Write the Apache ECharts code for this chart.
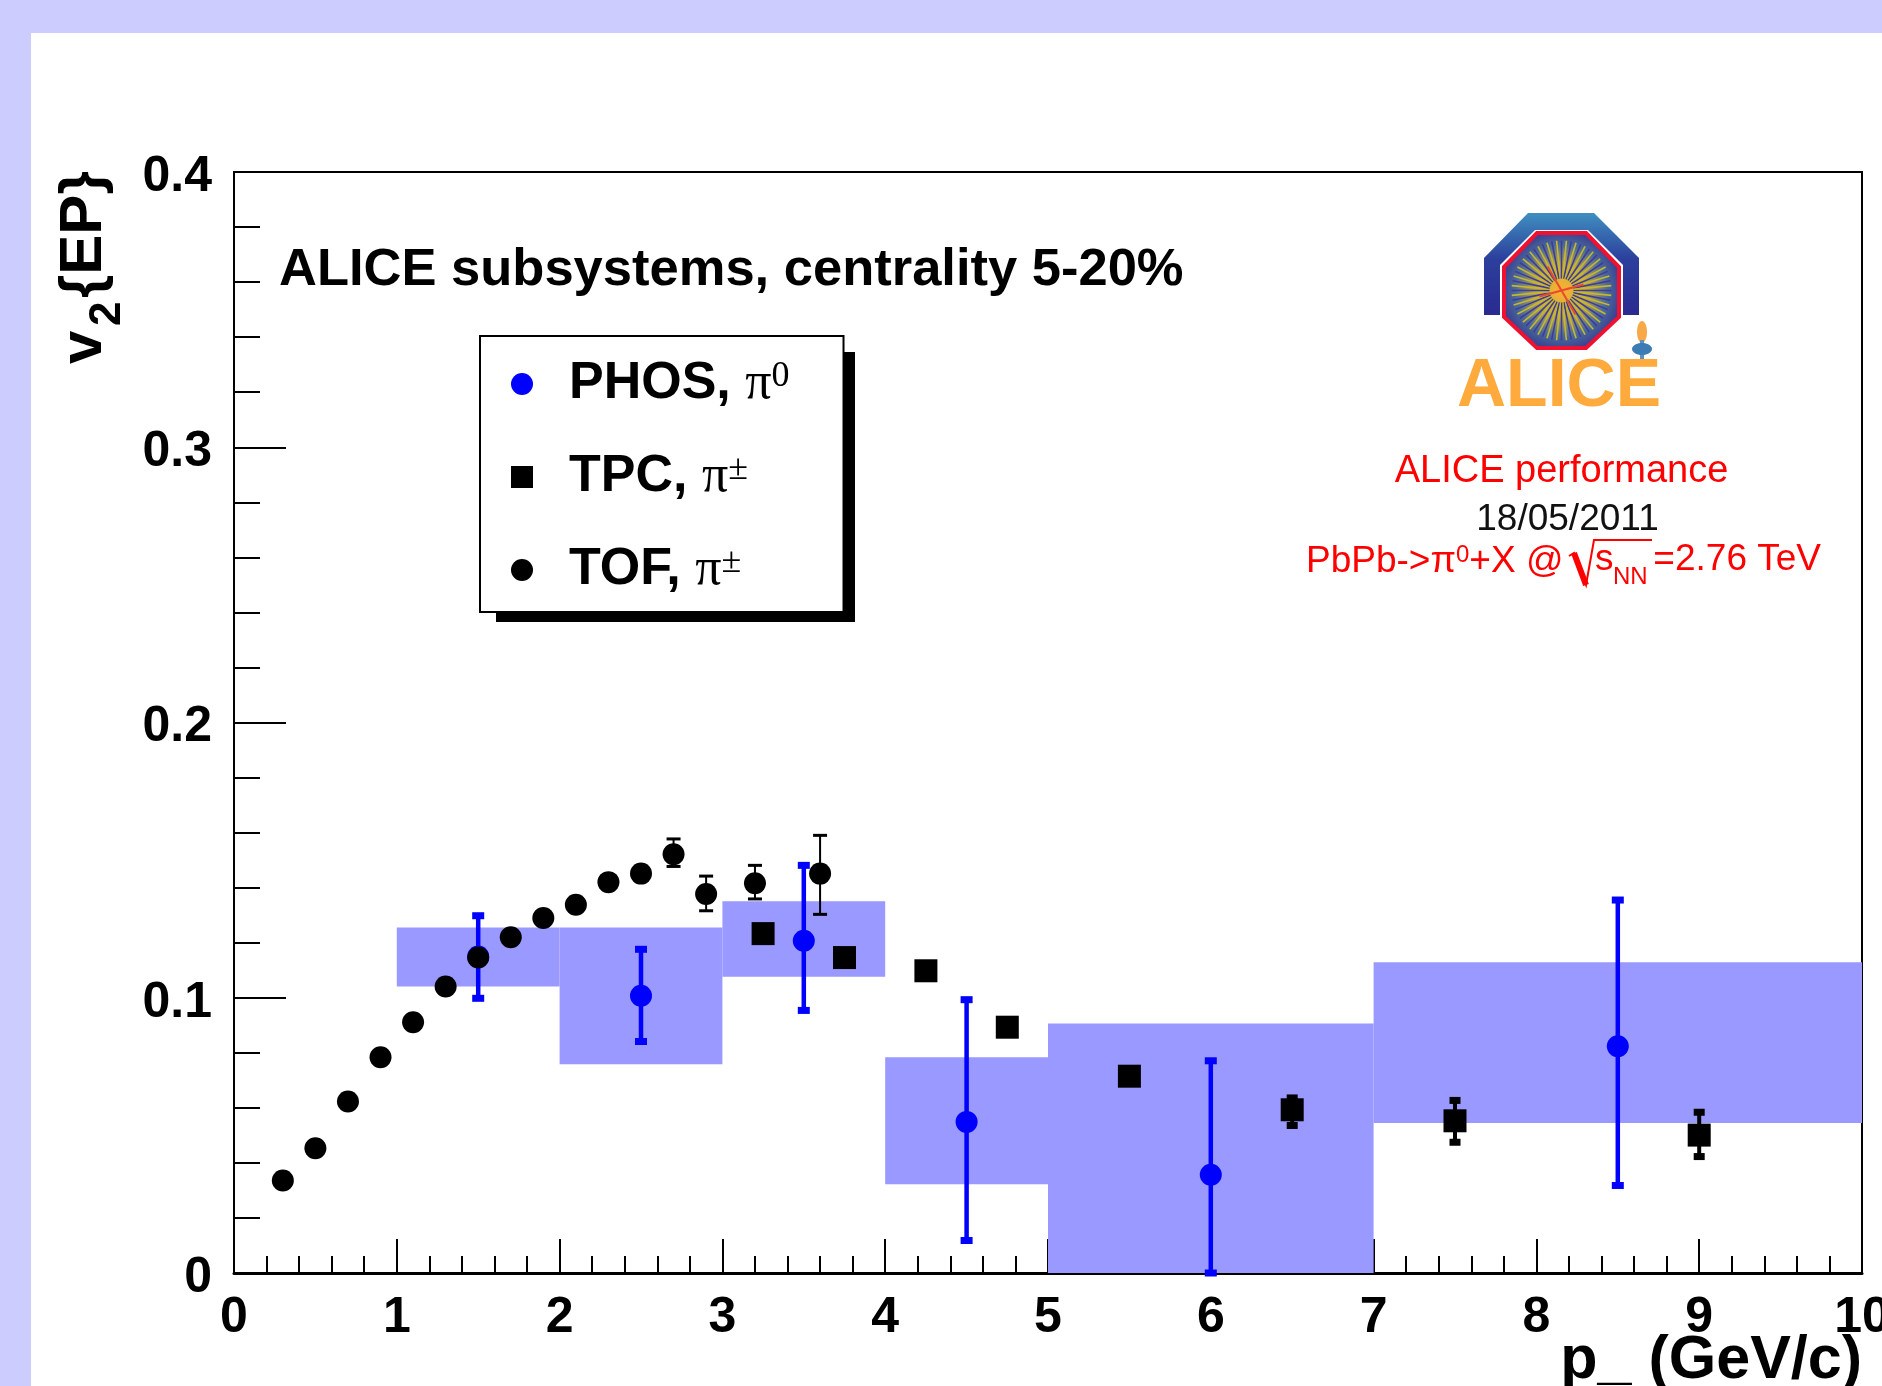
<!DOCTYPE html>
<html>
<head>
<meta charset="utf-8">
<title>ALICE subsystems v2</title>
<style>
html,body{margin:0;padding:0;background:#fff;overflow:hidden}
#chart{width:1882px;height:1386px}
</style>
<script src="https://cdn.jsdelivr.net/npm/echarts@6/dist/echarts.min.js"></script>
</head>
<body>
<div id="chart"></div>
<script>
var xTickLabels = ['0','1','2','3','4','5','6','7','8','9','10'];
var yTickLabels = ['0','0.1','0.2','0.3','0.4'];

// systematic bands: x from, x to, low, high
var bandFrom = [1, 2, 3, 4, 5, 7];
var bandTo   = [2, 3, 4, 5, 7, 10];
var bandLow  = [0.1041, 0.0758, 0.1076, 0.0322, 0, 0.0545];
var bandHigh = [0.1255, 0.1255, 0.1351, 0.0784, 0.0906, 0.1129];

var phosX    = [1.5, 2.5, 3.5, 4.5, 6, 8.5];
var phosY    = [0.115, 0.1007, 0.1207, 0.0549, 0.0357, 0.0824];
var phosLow  = [0.0998, 0.0841, 0.0954, 0.0118, 0, 0.0318];
var phosHigh = [0.1298, 0.1176, 0.1481, 0.0993, 0.0771, 0.1355];

var tpcX    = [3.25, 3.75, 4.25, 4.75, 5.5, 6.5, 7.5, 9];
var tpcY    = [0.1233, 0.1146, 0.1098, 0.0893, 0.0715, 0.0593, 0.0553, 0.0501];
var tpcErrX = [6.5, 7.5, 9];
var tpcLow  = [0.0536, 0.0475, 0.0423];
var tpcHigh = [0.0636, 0.0627, 0.0584];

var tofX    = [0.3, 0.5, 0.7, 0.9, 1.1, 1.3, 1.5, 1.7, 1.9, 2.1, 2.3, 2.5, 2.7, 2.9, 3.2, 3.6];
var tofY    = [0.0336, 0.0453, 0.0623, 0.0784, 0.0911, 0.1041, 0.1146, 0.122, 0.129, 0.1338, 0.142, 0.1451, 0.1521, 0.1377, 0.1416, 0.1451];
var tofErrX = [2.7, 2.9, 3.2, 3.6];
var tofLow  = [0.1477, 0.1316, 0.1359, 0.1303];
var tofHigh = [0.1577, 0.1442, 0.1481, 0.159];

var SANS = '"Liberation Sans", Arial, sans-serif';
var SERIF = '"Liberation Serif", serif';

function zip() {
	var cols = Array.prototype.slice.call(arguments);
	return cols[0].map(function(_, i){
		return cols.map(function(c){ return c[i]; });
	});
}

function bandItem(params, api) {
	var a = api.coord([api.value(0), api.value(3)]);
	var b = api.coord([api.value(1), api.value(2)]);
	return {
		type: 'rect',
		shape: {x: a[0], y: a[1], width: b[0] - a[0], height: b[1] - a[1]},
		style: {fill: '#9999ff'}
	};
}

// error bar with flat caps, one renderer per look
function errorItem(color, lineW, capW, capH) {
	return function(params, api) {
		var lo = api.coord([api.value(0), api.value(1)]);
		var hi = api.coord([api.value(0), api.value(2)]);
		return {
			type: 'group',
			children: [
				{type: 'line', shape: {x1: lo[0], y1: lo[1], x2: hi[0], y2: hi[1]}, style: {stroke: color, lineWidth: lineW}},
				{type: 'rect', shape: {x: lo[0] - capW / 2, y: lo[1] - capH / 2, width: capW, height: capH}, style: {fill: color}},
				{type: 'rect', shape: {x: hi[0] - capW / 2, y: hi[1] - capH / 2, width: capW, height: capH}, style: {fill: color}}
			]
		};
	};
}

var legendText = {
	'PHOS': '{t|PHOS, }{p|π}{s|0}',
	'TPC': '{t|TPC, }{p|π}{s|±}',
	'TOF': '{t|TOF, }{p|π}{s|±}'
};

// logo pieces, full page pixels
function logo() {
	var cx = 1561.5, cy = 290.5, els = [];
	els.push({type: 'polygon', shape: {points: [[1484,315],[1484,258],[1528,213],[1594,213],[1639,258],[1639,315],[1623,315],[1623,265],[1588,230],[1535,230],[1500,265],[1500,315]]},
		style: {fill: new echarts.graphic.LinearGradient(0, 0, 0, 1, [{offset: 0, color: '#3f8fc0'}, {offset: 0.45, color: '#2c3f9c'}, {offset: 1, color: '#2a2a90'}])}});
	els.push({type: 'polygon', shape: {points: [[1504,267],[1537,233],[1586,233],[1619,267],[1619,317],[1586,348],[1537,348],[1504,317]]},
		style: {fill: new echarts.graphic.RadialGradient(0.5, 0.5, 0.55, [{offset: 0, color: '#ffb030'}, {offset: 0.35, color: '#c8b040'}, {offset: 0.7, color: '#4a6a9a'}, {offset: 1, color: '#34308e'}]), stroke: '#f01030', lineWidth: 4}});
	for (var i = 0; i < 64; i++) {
		var a = i / 64 * Math.PI * 2;
		els.push({type: 'line', shape: {x1: cx + Math.cos(a) * 12, y1: cy + Math.sin(a) * 12, x2: cx + Math.cos(a) * 50, y2: cy + Math.sin(a) * 50},
			style: {stroke: i % 2 ? '#c8b828' : '#403a98', lineWidth: 1.6}});
	}
	els.push({type: 'line', shape: {x1: cx - 14, y1: cy - 24, x2: cx + 14, y2: cy + 24}, style: {stroke: '#e84a30', lineWidth: 2}});
	els.push({type: 'line', shape: {x1: cx - 22, y1: cy + 6, x2: cx + 22, y2: cy - 6}, style: {stroke: '#e84a30', lineWidth: 2}});
	els.push({type: 'ellipse', shape: {cx: 1642, cy: 332, rx: 5, ry: 11}, style: {fill: '#f8a848'}});
	els.push({type: 'line', shape: {x1: 1642, y1: 340, x2: 1642, y2: 366}, style: {stroke: '#5c90c0', lineWidth: 4}});
	els.push({type: 'ellipse', shape: {cx: 1642, cy: 349, rx: 10, ry: 6}, style: {fill: '#3c7cb4'}});
	els.push({type: 'text', x: 1559, y: 387, style: {text: 'ALICE', font: 'bold 68px ' + SANS, fill: '#ffaa3c', textAlign: 'center', textVerticalAlign: 'middle'}});
	return els;
}

function redText(x, y, str, size, align) {
	return {type: 'text', x: x, y: y, style: {text: str, font: size + 'px ' + SANS, fill: '#ff0000', textAlign: align, textVerticalAlign: 'middle'}};
}

function rotatedTitle(y, x, str, size) {
	return {type: 'text', x: x, y: y, rotation: Math.PI / 2, style: {text: str, font: 'bold ' + size + 'px ' + SANS, fill: '#000', textAlign: 'left', textVerticalAlign: 'bottom'}};
}

var graphics = [
	{type: 'rect', shape: {x: 0, y: 0, width: 1882, height: 33}, style: {fill: '#ccccff'}},
	{type: 'rect', shape: {x: 0, y: 0, width: 31, height: 1386}, style: {fill: '#ccccff'}},
	// legend drop shadow
	{type: 'rect', shape: {x: 496, y: 352, width: 359, height: 270}, style: {fill: '#000'}},
	rotatedTitle(364, 114, 'v', 60),
	rotatedTitle(326, 130, '2', 44),
	rotatedTitle(298, 114, '{EP}', 60),
	redText(1561.5, 472, 'ALICE performance', 38, 'center'),
	{type: 'text', x: 1567.5, y: 520, style: {text: '18/05/2011', font: '37px ' + SANS, fill: '#111', textAlign: 'center', textVerticalAlign: 'middle'}},
	{type: 'text', x: 1306, y: 562, style: {
		text: '{m|PbPb->π}{u|0}{m|+X @}', textAlign: 'left', textVerticalAlign: 'middle',
		rich: {m: {font: '37px ' + SANS, fill: '#ff0000'}, u: {font: '24px ' + SANS, fill: '#ff0000', verticalAlign: 'top'}}
	}},
	{type: 'polyline', shape: {points: [[1569,556],[1574,553],[1586,585],[1594,540],[1652,540]]}, style: {stroke: '#ff0000', lineWidth: 2, fill: 'none'}},
	{type: 'line', shape: {x1: 1574, y1: 553, x2: 1586, y2: 585}, style: {stroke: '#ff0000', lineWidth: 6}},
	redText(1595, 560, 's', 37, 'left'),
	redText(1613, 577, 'NN', 24, 'left'),
	redText(1821, 560, '=2.76 TeV', 37, 'right')
].concat(logo());

var tickLabelStyle = {color: '#000', fontFamily: SANS, fontWeight: 'bold', fontSize: 50};

var option = {
	animation: false,
	backgroundColor: '#fff',
	textStyle: {fontFamily: SANS},
	title: {
		text: 'ALICE subsystems, centrality 5-20%',
		left: 279, top: 244, padding: 0,
		textStyle: {color: '#000', fontFamily: SANS, fontWeight: 'bold', fontSize: 52.5}
	},
	grid: {left: 234, top: 172, width: 1628, height: 1101, outerBoundsMode: 'none', show: true, borderColor: '#000', borderWidth: 2, backgroundColor: 'transparent'},
	xAxis: {
		type: 'value', min: 0, max: 10, interval: 1,
		name: 'p_ (GeV/c)', nameLocation: 'end', nameGap: 0, nameMoveOverlap: false,
		nameTextStyle: {color: '#000', fontFamily: SANS, fontWeight: 'bold', fontSize: 61, align: 'right', verticalAlign: 'top', padding: [58, 0, 0, 0]},
		axisLine: {onZero: false, lineStyle: {color: '#000', width: 3}},
		axisTick: {inside: true, length: 34, lineStyle: {color: '#000', width: 2}},
		minorTick: {show: true, splitNumber: 5, length: 17, lineStyle: {color: '#000', width: 2}},
		splitLine: {show: false},
		axisLabel: Object.assign({margin: 20, formatter: function(v){ return xTickLabels[Math.round(v)]; }}, tickLabelStyle)
	},
	yAxis: {
		type: 'value', min: 0, max: 0.4, interval: 0.1,
		axisLine: {onZero: false, lineStyle: {color: '#000', width: 2}},
		axisTick: {inside: true, length: 52, lineStyle: {color: '#000', width: 2}},
		minorTick: {show: true, splitNumber: 5, length: 26, lineStyle: {color: '#000', width: 2}},
		splitLine: {show: false},
		// 'top' plus a negative pad nudges the labels just under their ticks
		axisLabel: Object.assign({margin: 22, verticalAlign: 'top', padding: [-20, 0, 0, 0], formatter: function(v){ return yTickLabels[Math.round(v * 10)]; }}, tickLabelStyle)
	},
	legend: {
		orient: 'vertical',
		left: 480, top: 336,
		padding: [22, 54, 16, 31],
		itemWidth: 22, itemHeight: 22, itemGap: 41,
		selectedMode: false,
		backgroundColor: '#fff',
		borderColor: '#000', borderWidth: 2,
		data: ['PHOS', 'TPC', 'TOF'],
		formatter: function(name){ return legendText[name]; },
		textStyle: {
			rich: {
				t: {fontFamily: SANS, fontWeight: 'bold', fontSize: 52, lineHeight: 50, color: '#000', padding: [0, 0, 0, 31]},
				p: {fontFamily: SERIF, fontSize: 52, lineHeight: 50, color: '#000'},
				s: {fontFamily: SERIF, fontSize: 36, lineHeight: 50, color: '#000', verticalAlign: 'top'}
			}
		}
	},
	graphic: {elements: graphics},
	series: [
		{type: 'custom', name: 'bands', silent: true, z: 1, renderItem: bandItem, encode: {x: [0, 1], y: [2, 3]}, data: zip(bandFrom, bandTo, bandLow, bandHigh)},
		{type: 'custom', name: 'phos err', silent: true, z: 3, clip: false, renderItem: errorItem('#0000ff', 4.5, 12, 7), encode: {x: 0, y: [1, 2]}, data: zip(phosX, phosLow, phosHigh)},
		{type: 'scatter', name: 'PHOS', z: 4, symbol: 'circle', symbolSize: 22, itemStyle: {color: '#0000ff', opacity: 1}, data: zip(phosX, phosY)},
		{type: 'custom', name: 'tpc err', silent: true, z: 5, renderItem: errorItem('#000', 4, 11, 7), encode: {x: 0, y: [1, 2]}, data: zip(tpcErrX, tpcLow, tpcHigh)},
		{type: 'scatter', name: 'TPC', z: 6, symbol: 'rect', symbolSize: 23, itemStyle: {color: '#000', opacity: 1}, data: zip(tpcX, tpcY)},
		{type: 'custom', name: 'tof err', silent: true, z: 7, renderItem: errorItem('#000', 2, 14, 3), encode: {x: 0, y: [1, 2]}, data: zip(tofErrX, tofLow, tofHigh)},
		{type: 'scatter', name: 'TOF', z: 8, symbol: 'circle', symbolSize: 22, itemStyle: {color: '#000', opacity: 1}, data: zip(tofX, tofY)}
	]
};

var myChart = echarts.init(document.getElementById('chart'));
myChart.setOption(option);
</script>
</body>
</html>
